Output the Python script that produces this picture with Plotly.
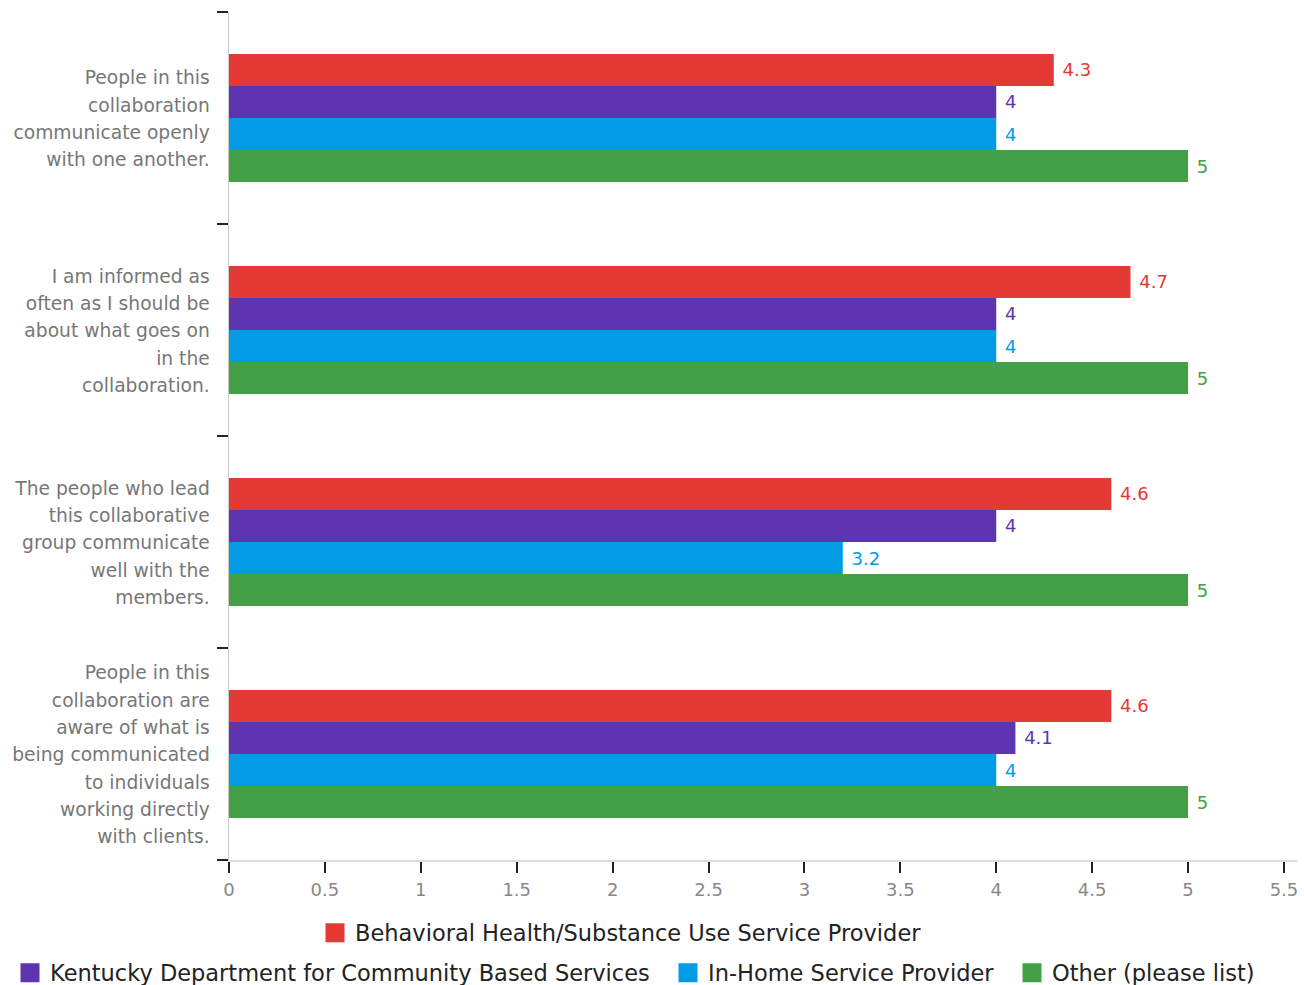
import plotly.graph_objects as go

# Survey statements, one list of display lines per statement
statement_lines = [
    ["People in this", "collaboration", "communicate openly", "with one another."],
    ["I am informed as", "often as I should be", "about what goes on", "in the", "collaboration."],
    ["The people who lead", "this collaborative", "group communicate", "well with the", "members."],
    ["People in this", "collaboration are", "aware of what is", "being communicated",
     "to individuals", "working directly", "with clients."],
]
statements = [" ".join(lines) for lines in statement_lines]

# Respondent groups and their mean ratings per statement
series_names = [
    "Behavioral Health/Substance Use Service Provider",
    "Kentucky Department for Community Based Services",
    "In-Home Service Provider",
    "Other (please list)",
]
behavioral_health = [4.3, 4.7, 4.6, 4.6]
kentucky_dcbs = [4, 4, 4, 4.1]
in_home = [4, 4, 3.2, 4]
other = [5, 5, 5, 5]
series_values = [behavioral_health, kentucky_dcbs, in_home, other]

x_ticks = [0, 0.5, 1, 1.5, 2, 2.5, 3, 3.5, 4, 4.5, 5, 5.5]

colors = ["#e53935", "#5e35b1", "#039be5", "#43a047"]
FONT = "DejaVu Sans"
W, H = 1304, 985

fig = go.Figure()

for name, vals, col in zip(series_names, series_values, colors):
    fig.add_trace(go.Bar(
        y=statements,
        x=vals,
        orientation="h",
        name=name,
        marker=dict(color=col, line=dict(width=0)),
        text=vals,
        texttemplate="\u00a0%{x}",
        textposition="outside",
        textfont=dict(family=FONT, size=18, color=col),
        cliponaxis=False,
        showlegend=False,
        hoverinfo="x+name",
    ))

# Legend entries: each series gets its own legend so rows can be laid out freely
legend_ids = ["legend", "legend2", "legend3", "legend4"]
legend_pos = [(335, 933), (30, 973), (688, 973), (1032, 973)]  # square centre (px)
for name, col, lid in zip(series_names, colors, legend_ids):
    fig.add_trace(go.Scatter(
        x=[None], y=[None], mode="markers", name=name,
        marker=dict(symbol="square", size=16, color=col, line=dict(color=col, width=3)),
        legend=lid, showlegend=True, hoverinfo="skip",
    ))

legend_layouts = {}
for lid, (cx, cy) in zip(legend_ids, legend_pos):
    legend_layouts[lid] = dict(
        x=(cx - 20) / W, xref="container", xanchor="left",
        y=1 - cy / H, yref="container", yanchor="middle",
        orientation="h",
        font=dict(family=FONT, size=22.5, color="#222222"),
        bgcolor="rgba(0,0,0,0)", borderwidth=0,
        itemclick=False, itemdoubleclick=False,
    )

# Tick text: big base size keeps the line pitch, inner span sets glyph size
tick_text = [
    "<br>".join(f'<span style="font-size:18.7px">{ln}</span>' for ln in lines)
    for lines in statement_lines
]

fig.update_layout(
    width=W, height=H,
    margin=dict(l=229, r=7, t=12, b=125),
    paper_bgcolor="white", plot_bgcolor="white",
    barmode="group", bargap=0.396, bargroupgap=0,
    font=dict(family=FONT, color="#777777"),
    xaxis=dict(
        range=[0, 5.568], tickvals=x_ticks,
        ticktext=[f"{v:g}" for v in x_ticks],
        ticks="outside", ticklen=11, tickwidth=2, tickcolor="#222222",
        showline=True, linecolor="#dddddd", linewidth=2,
        showgrid=False, zeroline=False,
        tickfont=dict(family=FONT, size=18, color="#888888"),
        ticklabelstandoff=1,
    ),
    yaxis=dict(
        type="category", categoryorder="array", categoryarray=statements,
        autorange="reversed",
        tickvals=statements, ticktext=tick_text,
        tickson="boundaries",
        ticks="outside", ticklen=11, tickwidth=2, tickcolor="#222222",
        showline=True, linecolor="#cccccc", linewidth=1,
        showgrid=False, zeroline=False,
        tickfont=dict(family=FONT, size=21, color="#777777"),
        ticklabelstandoff=14,
    ),
    showlegend=True,
    **legend_layouts,
)

fig.write_html("out.html")
